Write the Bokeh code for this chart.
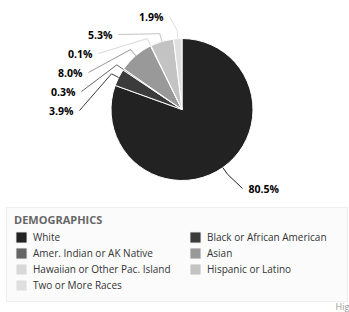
import numpy as np
from bokeh.plotting import figure
from bokeh.models import ColumnDataSource, Range1d, Legend, LegendItem, BoxAnnotation, Label
from bokeh.embed import file_html
from bokeh.resources import INLINE
from bokeh.core.properties import value

# ---- data ----
categories = ["White", "Black or African American", "Amer. Indian or AK Native", "Asian",
              "Hawaiian or Other Pac. Island", "Hispanic or Latino", "Two or More Races"]
percent = [80.5, 3.9, 0.3, 8.0, 0.1, 5.3, 1.9]
legend_title = "DEMOGRAPHICS"

# ---- styles / layout ----
colors = ["#222222", "#3b3b3b", "#666666", "#999999", "#d8d8d8", "#c3c3c3", "#dfdfdf"]
label_x = [248, 73, 75, 82, 92, 112, 163]      # pixel anchors of data labels
label_y = [188, 110, 91, 72, 53, 34, 16]
label_align = ["left", "right", "right", "right", "right", "right", "right"]
legend_order = [0, 2, 4, 6, 1, 3, 5]            # column-major fill of the 2-column legend

W, H = 349, 312

def px(x):
    return np.asarray(x, dtype=float)

def py(y):
    return H - np.asarray(y, dtype=float)

CX, CY, R = 181.5, 109.0, 71.0
FONT = "Open Sans"

p = figure(width=W, height=H, output_backend="svg", toolbar_location=None,
           x_range=Range1d(0, W), y_range=Range1d(0, H), min_border=0)
p.axis.visible = False
p.grid.visible = False
p.outline_line_color = None
p.background_fill_color = "white"
p.border_fill_color = "white"

vals = np.array(percent)
cum = np.concatenate([[0], np.cumsum(vals)]) / vals.sum() * 2 * np.pi  # clockwise from top
start = np.pi / 2 - cum[1:]
end = np.pi / 2 - cum[:-1]
mid = (cum[:-1] + cum[1:]) / 2

src = ColumnDataSource(dict(cat=categories, pct=percent, start=start, end=end, color=colors))

# legend background box
box = BoxAnnotation(left=6, right=347, top=float(py(207)), bottom=float(py(301)),
                    fill_color="#fbfbfb", fill_alpha=1.0, line_color="#cccccc", line_width=1)
p.add_layout(box)

wr = p.wedge(x=float(px(CX)), y=float(py(CY)), radius=R, start_angle="start", end_angle="end",
             direction="anticlock", fill_color="color", line_color="white", line_width=1, source=src)

# connectors
xs, ys = [], []
for i in range(len(percent)):
    ex = CX + R * np.sin(mid[i]); ey = CY - R * np.cos(mid[i])
    bx = CX + (R + 8) * np.sin(mid[i]); by = CY - (R + 8) * np.cos(mid[i])
    lx = label_x[i] + (6 if label_align[i] == "right" else -6)
    xs.append(list(px([lx, bx, ex])))
    ys.append(list(py([label_y[i], by, ey])))
csrc = ColumnDataSource(dict(xs=xs, ys=ys, color=colors))
p.multi_line(xs="xs", ys="ys", line_color="color", line_width=1, source=csrc)

lsrc = ColumnDataSource(dict(x=px(label_x), y=py(label_y),
                             t=[f"{v:.1f}%" for v in percent], align=label_align))
p.text(x="x", y="y", text="t", text_align="align", text_baseline="middle",
       text_font=value(FONT), text_font_style="bold", text_font_size="10.5px",
       text_color="#000000", source=lsrc)

items = [LegendItem(label=categories[i], renderers=[wr], index=i) for i in legend_order]
legend = Legend(items=items, ncols=2, location=(14, 20), title=legend_title,
                title_text_font=FONT, title_text_font_style="bold", title_text_font_size="11px",
                title_text_color="#666666", title_standoff=3,
                label_text_font=FONT, label_text_font_size="10px", label_text_color="#333333",
                glyph_width=14, glyph_height=14, label_height=12, label_standoff=5,
                label_width=153, spacing=2, padding=0, margin=0, border_line_color=None,
                background_fill_alpha=0)
p.add_layout(legend)

credit = Label(x=335, y=float(py(312)), text="Highcharts.com", text_font=FONT, text_font_size="9px",
               text_color="#999999", text_baseline="bottom")
p.add_layout(credit)

open("out.html", "w").write(file_html(p, INLINE))
